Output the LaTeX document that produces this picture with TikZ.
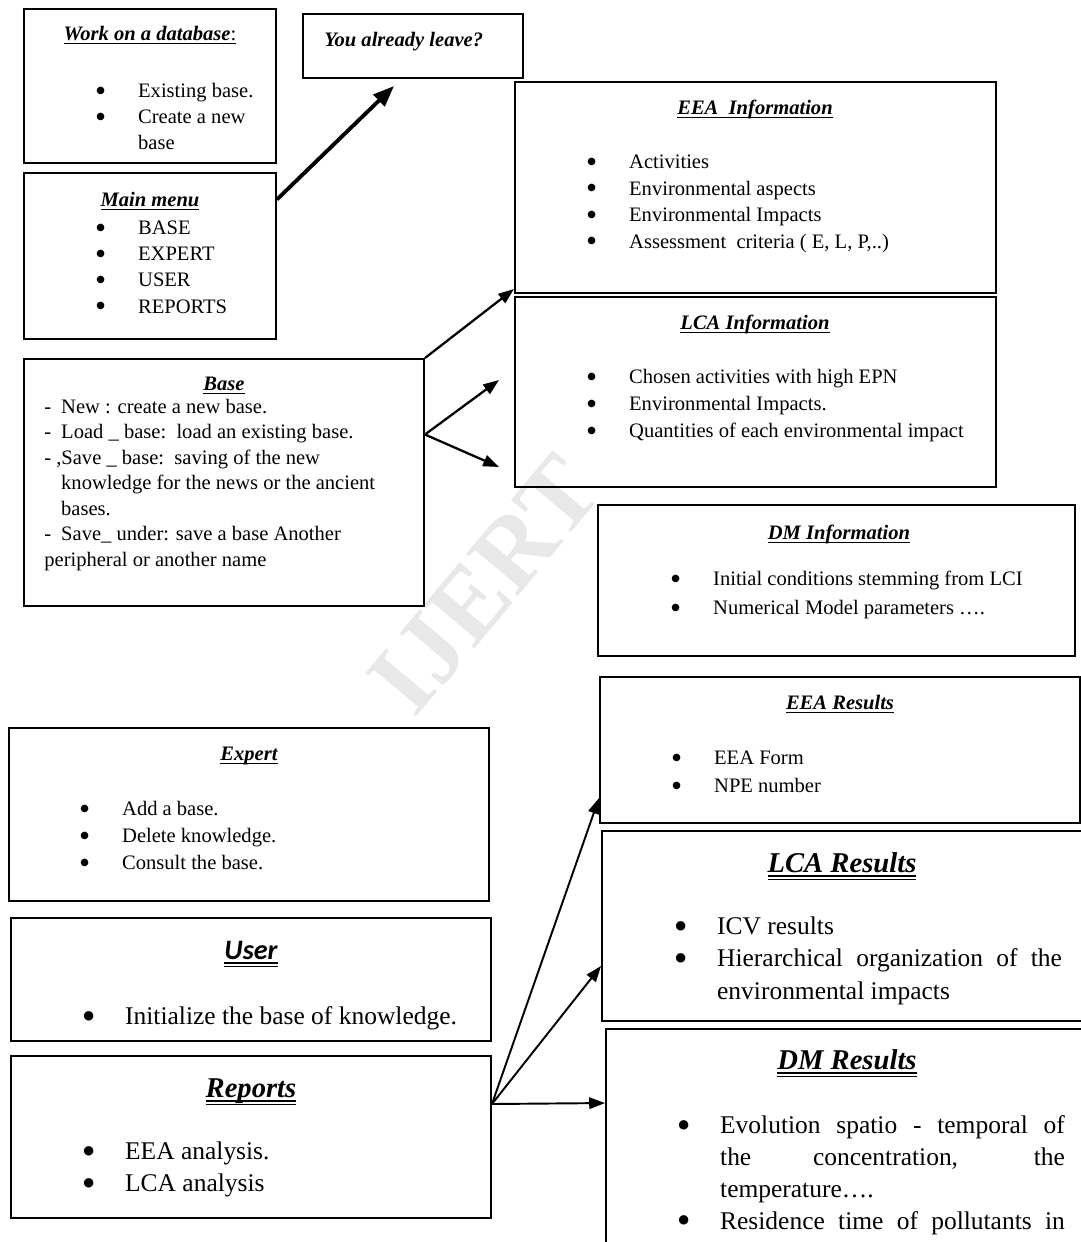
\documentclass[tikz,border=0pt]{standalone}
\usepackage{fontspec}
\setmainfont{Liberation Serif}
\newfontfamily\calibri{Carlito}
\newfontfamily\dejavu{DejaVu Sans}
\usetikzlibrary{arrows.meta,fit,calc}

\newlength{\bulw}\setlength{\bulw}{23.8pt}
\newcommand{\bulpt}{5.6}
\newcommand{\bul}[1]{\strut\makebox[\bulw][l]{\raisebox{0.2em}{\dejavu\fontsize{\bulpt}{\bulpt}\selectfont ●}}#1}
\newcommand{\bdash}{\makebox[9.6pt][l]{-}}
\newcommand{\fsz}[2]{\fontsize{#1}{#2}\selectfont}
\newcommand{\uln}[1]{\setbox0\hbox{#1}\rlap{\rule[-2.4pt]{\wd0}{0.8pt}}\box0}
\newcommand{\uuln}[1]{\setbox0\hbox{#1}\rlap{\rule[-2.6pt]{\wd0}{0.8pt}}\rlap{\rule[-4.6pt]{\wd0}{0.8pt}}\box0}

\begin{document}
\begin{tikzpicture}[x=0.02cm, y=-0.02cm,
    box/.style={draw, line width=1.1pt, inner sep=0pt},
    title/.style={anchor=base, inner sep=0pt, font=\fsz{11.7}{14}\bfseries\itshape},
    bigtitle/.style={anchor=base, inner sep=0pt, font=\fsz{16.3}{19}\bfseries\itshape},
    list/.style={anchor=west, align=left, inner sep=0pt},
    biglist/.style={list, font=\fsz{14.5}{#1}\renewcommand{\bulpt}{7}},
    arr/.style={line width=1.3pt, -{Triangle[length=9pt,width=6.5pt]}}]

\useasboundingbox (0,0) rectangle (1081,1242);

% watermark
\node[text=black!9, font=\fsz{58}{60}\bfseries, rotate=50, inner sep=0pt] (ijert) at (485,585) {IJERT};

% left column
\node[box, fit={(24,9) (276,163)}] (work) {};
\node[title] (worktitle) at (150,40) {\uln{Work on a database{\mdseries\upshape :}}};
\node[list, font=\fsz{11.7}{14.7}] (worklist) at (96,118) {\bul{Existing base.}\\\bul{Create a new}\\\hspace*{\bulw}base\strut};

\node[box, fit={(303,14) (523,78)}] (leave) {};
\node[title, anchor=base west] (leavetext) at (324,46) {You already leave?};

\node[box, fit={(24,173) (276,339)}] (mainmenu) {};
\node[title] (maintitle) at (150,206) {\uln{Main menu}};
\node[list, font=\fsz{11.7}{14.9}] (mainlist) at (96,268.5) {\bul{BASE}\\\bul{EXPERT}\\\bul{USER}\\\bul{REPORTS}};

\node[box, fit={(24,359) (424,606)}] (base) {};
\node[title] (basetitle) at (224,390) {\uln{Base}};
\node[list, font=\fsz{11.7}{14.5}] (baselist) at (44,484.5) {\strut\bdash New : create a new base.\\\bdash Load \_ base:\ \ load an existing base.\\\makebox[6.8pt][l]{-},Save \_ base:\ \ saving of the new\\\hspace*{9.6pt}knowledge for the news or the ancient\\\hspace*{9.6pt}bases.\\\bdash Save\_ under: save a base Another\\peripheral or another name\strut};

\node[box, fit={(9,728) (489,901)}] (expert) {};
\node[title] (experttitle) at (249,760) {\uln{Expert}};
\node[list, font=\fsz{11.7}{15.3}] (expertlist) at (80,837) {\bul{Add a base.}\\\bul{Delete knowledge.}\\\bul{Consult the base.}};

\node[box, fit={(11,918) (491,1041)}] (user) {};
\node[bigtitle, font=\calibri\fsz{16}{19}\bfseries\itshape] (usertitle) at (251,959) {\uuln{User}};
\node[biglist={18}] (userlist) at (83,1018) {\bul{Initialize the base of knowledge.}};

\node[box, fit={(11,1056) (491,1218)}] (reports) {};
\node[bigtitle] (reportstitle) at (251,1097) {\uuln{Reports}};
\node[biglist={18.1}] (reportslist) at (83,1169) {\bul{EEA analysis.}\\\bul{LCA analysis}};

% right column
\node[box, fit={(515,82) (996,293)}] (eeainfo) {};
\node[title] (eeainfotitle) at (755,114) {\uln{EEA\ \ Information}};
\node[list, font=\fsz{11.7}{15.1}] (eeainfolist) at (587,203) {\bul{Activities}\\\bul{Environmental aspects}\\\bul{Environmental Impacts}\\\bul{Assessment\ \ criteria ( E, L, P,..)}};

\node[box, fit={(515,297) (996,487)}] (lcainfo) {};
\node[title] (lcainfotitle) at (755,329) {\uln{LCA Information}};
\node[list, font=\fsz{11.7}{15.3}] (lcainfolist) at (587,405) {\bul{Chosen activities with high EPN}\\\bul{Environmental Impacts.}\\\bul{Quantities of each environmental impact}};

\node[box, fit={(598,505) (1075,656)}] (dminfo) {};
\node[title] (dminfotitle) at (839,539) {\uln{DM Information}};
\node[list, font=\fsz{11.7}{16.4}] (dminfolist) at (671,594.5) {\bul{Initial conditions stemming from LCI}\\\bul{Numerical Model parameters ….}};

\node[box, fit={(600,677) (1080,823)}] (eeares) {};
\node[title] (eearestitle) at (840,709) {\uln{EEA Results}};
\node[list, font=\fsz{11.7}{15.9}] (eeareslist) at (672,773) {\bul{EEA Form}\\\bul{NPE number}};

\node[box, fit={(602,831) (1095,1021)}] (lcares) {};
\node[bigtitle] (lcarestitle) at (842,872) {\uuln{LCA Results}};
\node[biglist={18.4}] (lcareslist) at (675,960.5) {\bul{ICV results}\\\bul{\makebox[196.2pt][s]{Hierarchical organization of the}}\\\hspace*{\bulw}environmental impacts\strut};

\node[box, fit={(606,1029) (1095,1260)}] (dmres) {};
\node[bigtitle] (dmrestitle) at (847,1069) {\uuln{DM Results}};
\node[biglist={18.1}] (dmreslist) at (678,1175) {\bul{\makebox[196.2pt][s]{Evolution spatio - temporal of}}\\\hspace*{\bulw}\makebox[196.2pt][s]{the concentration, the}\\\hspace*{\bulw}temperature….\\\bul{\makebox[196.2pt][s]{Residence time of pollutants in}}};

% arrows
\draw[arr, line width=2.2pt, -{Triangle[length=12pt,width=9pt]}] (mainmenu.24) -- ($(leave.south west)+(92,7)$);
\draw[arr] (base.north east) -- ([yshift=0.1cm]eeainfo.south west);
\draw[arr] ([yshift=0.96cm]base.east) -- ($(lcainfo.west)+(-15,-12)$);
\draw[arr] ([yshift=0.96cm]base.east) -- ($(lcainfo.west)+(-15,75)$);
\draw[arr, line width=1.1pt] ([yshift=0.66cm]reports.east) -- ($(eeares.west)+(0,48)$);
\draw[arr, line width=1.1pt] ([yshift=0.66cm]reports.east) -- ($(lcares.west)+(0,40)$);
\draw[arr, line width=1.1pt] ([yshift=0.66cm]reports.east) -- ($(dmres.north west)+(0,75)$);
\end{tikzpicture}
\end{document}
